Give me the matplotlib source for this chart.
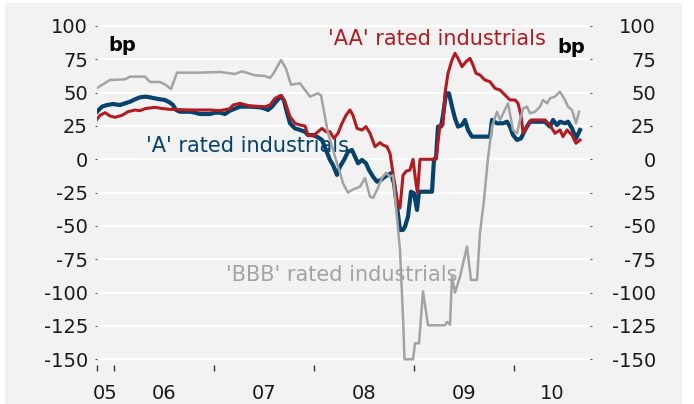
import numpy as np
import matplotlib
matplotlib.use('Agg')
from matplotlib import pyplot as plt
from matplotlib.patches import Rectangle

# spread vs. swaps, bp (x in decimal years)
bbb_x = [2005.83, 2005.96, 2006.11, 2006.16, 2006.31, 2006.36, 2006.46, 2006.52, 2006.57, 2006.63,
         2006.86, 2007.06, 2007.21, 2007.28, 2007.41, 2007.51, 2007.56, 2007.60, 2007.67, 2007.72,
         2007.77, 2007.86, 2007.91, 2007.96, 2008.04, 2008.07, 2008.14, 2008.23, 2008.26, 2008.29,
         2008.34, 2008.38, 2008.46, 2008.51, 2008.56, 2008.59, 2008.63, 2008.68, 2008.72, 2008.76,
         2008.79, 2008.81, 2008.86, 2008.89, 2008.905, 2008.99, 2009.01, 2009.05, 2009.09, 2009.14,
         2009.31, 2009.33, 2009.36, 2009.38, 2009.41, 2009.46, 2009.53, 2009.57, 2009.63, 2009.66,
         2009.70, 2009.74, 2009.78, 2009.83, 2009.86, 2009.94, 2009.99, 2010.03, 2010.06, 2010.09,
         2010.13, 2010.16, 2010.21, 2010.26, 2010.29, 2010.33, 2010.36, 2010.41, 2010.46, 2010.51,
         2010.54, 2010.58, 2010.62, 2010.65]
bbb_y = [53.5, 59.5, 60, 62, 62, 58, 58, 55.7, 52.7, 65,
         65, 65.5, 64, 66, 63, 62.5, 61, 65, 74.5, 68,
         56, 57, 52, 47, 49.5, 48, 19.7, -3, -10, -18,
         -25, -23, -20.5, -14, -28, -29, -23, -14, -10, -13,
         -12, -28, -68, -118, -150, -150, -138, -138, -99, -124.5,
         -124.5, -122, -124, -88, -100, -88, -65.5, -90.5, -90.5, -55,
         -30.5, 1, 24.5, 35.7, 29.5, 42, 22, 19.5, 29.5, 38,
         39.5, 34.5, 35.7, 39.5, 44.5, 42, 45.7, 47, 50.7, 44.5,
         39.5, 37, 27, 35.7]

aa_x = [2005.83, 2005.86, 2005.91, 2005.96, 2006.01, 2006.08, 2006.14, 2006.21, 2006.26, 2006.31,
        2006.41, 2006.49, 2006.56, 2006.76, 2006.96, 2007.06, 2007.16, 2007.19, 2007.26, 2007.36,
        2007.51, 2007.56, 2007.61, 2007.67, 2007.71, 2007.76, 2007.81, 2007.86, 2007.91, 2007.94,
        2007.99, 2008.04, 2008.08, 2008.12, 2008.16, 2008.20, 2008.24, 2008.28, 2008.32, 2008.36,
        2008.39, 2008.43, 2008.48, 2008.52, 2008.56, 2008.61, 2008.66, 2008.69, 2008.73, 2008.76,
        2008.79, 2008.83, 2008.86, 2008.89, 2008.92, 2008.96, 2008.99, 2009.02, 2009.035, 2009.06,
        2009.22, 2009.26, 2009.29, 2009.31, 2009.34, 2009.38, 2009.41, 2009.44, 2009.48, 2009.52,
        2009.56, 2009.59, 2009.62, 2009.66, 2009.71, 2009.76, 2009.81, 2009.86, 2009.91, 2009.96,
        2010.01, 2010.04, 2010.07, 2010.09, 2010.11, 2010.17, 2010.31, 2010.36, 2010.41, 2010.46,
        2010.49, 2010.53, 2010.58, 2010.62, 2010.66]
aa_y = [30, 33, 35, 32.5, 31.5, 33, 35.7, 37, 36.5, 38,
        39, 38, 37.5, 37, 37, 36.5, 38, 40.7, 42, 40,
        39.5, 40.7, 45.7, 48, 43, 32, 27, 25.7, 25, 18.2,
        17.5, 20.7, 23.2, 20.7, 20.7, 15.7, 19.5, 27, 33, 37,
        33, 23.2, 22, 24.5, 19.5, 9.5, 12.5, 10.7, 9.5, 4.5,
        -10.5, -30, -36.5, -12, -9, -8, 0, -18, -25, 0,
        0, 25.7, 25.7, 49.5, 64.5, 74.5, 79.5, 75.7, 69.5, 73.2,
        75.7, 70.7, 64.5, 63.2, 59.5, 58.2, 53.2, 52, 48.2, 44.5,
        44.5, 42, 33, 20, 22, 29.5, 29.5, 25.7, 19.5, 22,
        17, 22, 18.2, 12, 14.5]

a_x = [2005.83, 2005.88, 2005.93, 2005.99, 2006.06, 2006.11, 2006.16, 2006.21, 2006.26, 2006.31,
       2006.36, 2006.41, 2006.46, 2006.51, 2006.56, 2006.59, 2006.62, 2006.66, 2006.76, 2006.81,
       2006.86, 2006.96, 2007.01, 2007.06, 2007.11, 2007.16, 2007.21, 2007.26, 2007.36, 2007.46,
       2007.51, 2007.54, 2007.58, 2007.62, 2007.67, 2007.70, 2007.73, 2007.76, 2007.81, 2007.86,
       2007.91, 2007.94, 2007.99, 2008.04, 2008.08, 2008.12, 2008.16, 2008.19, 2008.23, 2008.26,
       2008.30, 2008.34, 2008.38, 2008.41, 2008.44, 2008.48, 2008.52, 2008.55, 2008.59, 2008.63,
       2008.67, 2008.71, 2008.74, 2008.77, 2008.80, 2008.83, 2008.86, 2008.89, 2008.91, 2008.94,
       2008.97, 2009.00, 2009.03, 2009.05, 2009.18, 2009.20, 2009.22, 2009.24, 2009.27, 2009.29,
       2009.32, 2009.35, 2009.38, 2009.41, 2009.44, 2009.48, 2009.51, 2009.54, 2009.58, 2009.76,
       2009.78, 2009.83, 2009.89, 2009.93, 2009.96, 2009.99, 2010.03, 2010.07, 2010.11, 2010.16,
       2010.31, 2010.36, 2010.39, 2010.43, 2010.46, 2010.51, 2010.54, 2010.58, 2010.62, 2010.66]
a_y = [35.7, 39.5, 40.7, 41.5, 40.7, 42, 43.2, 45, 46.5, 47,
       46.5, 45.7, 45, 44.5, 42.5, 40.7, 37, 35.7, 35.7, 35,
       34, 34, 35, 35, 34, 36.5, 38, 39.5, 39.5, 39,
       38, 37, 39.5, 43.2, 47.5, 44, 35, 27, 23.2, 22,
       20.7, 18.2, 18.2, 16.5, 14.5, 7, -0.5, -4.3, -11.7, -5.5,
       -0.5, 5.7, 7, 2, -3, -0.5, -3, -8, -13, -16.8,
       -15.5, -13, -11.7, -10.5, -18, -35.5, -53, -53, -50.5, -43,
       -24.3, -25.5, -38, -24.3, -24.3, 0, 1, 24.5, 24.5, 33,
       49.5, 49.5, 39.5, 30.7, 24.5, 25.7, 29.5, 22, 17, 17,
       29.5, 27, 27, 28.2, 24.5, 18.2, 14.5, 15.7, 22, 28.2,
       28.2, 24.5, 29.5, 25.7, 28.2, 27, 28.2, 23.2, 15.7, 22]

year_labels = ['05', '06', '07', '08', '09', '10']
year_starts = [2006, 2007, 2008, 2009, 2010]
y_ticks = [100, 75, 50, 25, 0, -25, -50, -75, -100, -125, -150]

red = '#b31b22'
blue = '#06426b'
grey = '#a3a3a3'
bg = '#f2f2f2'
txt = '#1a1a1a'

fig = plt.figure(figsize=(6.94, 4.04), dpi=100, facecolor='white')
fig.patches.append(Rectangle((5 / 694, 0), 677 / 694, 401 / 404, transform=fig.transFigure,
                             facecolor=bg, edgecolor='none', zorder=-10))

ax = fig.add_axes([97 / 694, 1 - 365 / 404, 493 / 694, 345 / 404])
ax.set_facecolor(bg)
x0, x1 = 2005.83, 2010.76
ax.set_xlim(x0, x1)
ax.set_ylim(-154.3, 104.5)
for s in ax.spines.values():
    s.set_visible(False)

for v in y_ticks:
    ax.axhline(v, color='white', lw=1.6, zorder=1)

ax.plot(a_x, a_y, color=blue, lw=3.0, zorder=3, solid_joinstyle='round')
ax.plot(aa_x, aa_y, color=red, lw=2.2, zorder=4, solid_joinstyle='round')
ax.plot(bbb_x, bbb_y, color=grey, lw=1.8, zorder=5, solid_joinstyle='round')

# y axis, left
ax.set_yticks(y_ticks)
ax.set_yticklabels([str(v) for v in y_ticks])
ax.tick_params(axis='y', length=1.5, width=0.8, color='#555555', pad=5,
               labelsize=14, labelcolor=txt)

# y axis, right
ax2 = ax.twinx()
ax2.set_ylim(ax.get_ylim())
for s in ax2.spines.values():
    s.set_visible(False)
ax2.set_yticks(y_ticks)
ax2.set_yticklabels([str(v) for v in y_ticks])
ax2.tick_params(axis='y', length=1.5, width=0.8, color='#555555', pad=46,
                labelsize=14, labelcolor=txt)
for lab in ax2.get_yticklabels():
    lab.set_ha('right')

# x axis: tick marks at year boundaries, labels centred in between
edges = [x0] + year_starts + [x1]
mids = [(edges[i] + edges[i + 1]) / 2 for i in range(len(edges) - 1)]
ax.set_xticks([x0] + year_starts)
ax.set_xticklabels([])
ax.set_xticks(mids, minor=True)
ax.set_xticklabels(year_labels, minor=True)
ax.tick_params(axis='x', which='major', length=4.5, width=1, color='#333333', direction='out')
ax.tick_params(axis='x', which='minor', length=0, pad=14, labelsize=14, labelcolor=txt)

# labels
ax.text(2005.94, 85, 'bp', fontsize=14, fontweight='bold', color='black', va='center')
ax.text(2010.71, 83.5, 'bp', fontsize=14, fontweight='bold', color='black', va='center', ha='right')
ax.text(2008.14, 90, "'AA' rated industrials", fontsize=15, color=red, va='center')
ax.text(2006.32, 10, "'A' rated industrials", fontsize=15, color=blue, va='center')
ax.text(2007.12, -87, "'BBB' rated industrials", fontsize=15, color=grey, va='center')

plt.savefig('out.png', dpi=100, facecolor=fig.get_facecolor())
